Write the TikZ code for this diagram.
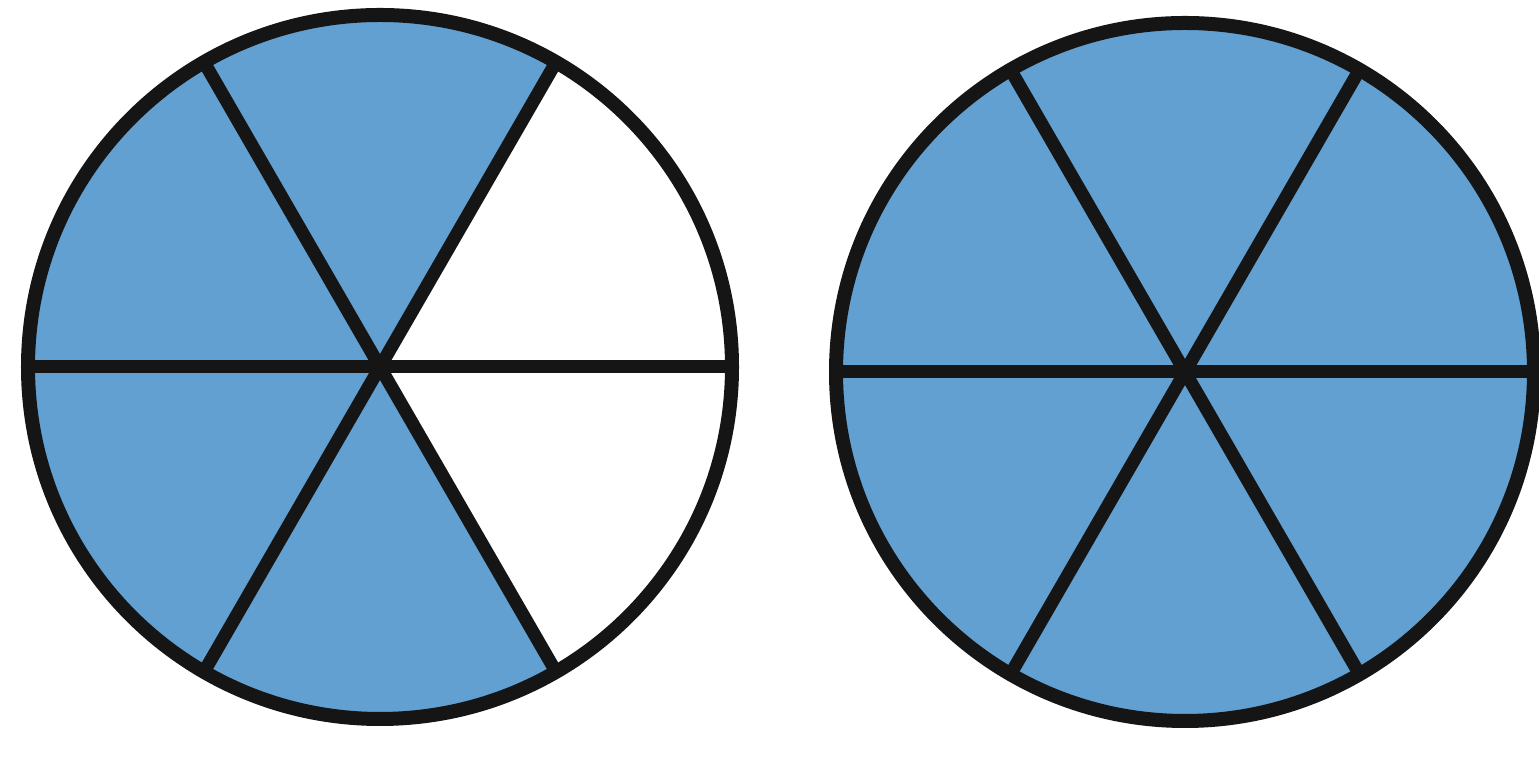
\documentclass[tikz,border=0pt]{standalone}
\usetikzlibrary{calc}
\definecolor{sector}{HTML}{62A0D2}
\definecolor{edge}{HTML}{151515}
\begin{document}
\begin{tikzpicture}[x=0.01cm,y=-0.01cm,
  rim/.style={draw=edge,line width=0.14cm},
  spoke/.style={draw=edge,line width=0.13cm},
  wedge/.style={fill=sector}]
\useasboundingbox (0,0) rectangle (1539,762);
% left circle
\coordinate (c1) at (380,367);
\def\ra{352}
\foreach \a in {60,120,180,240}{
  \fill[wedge] (c1) -- ++(\a:\ra) arc[start angle=\a, end angle=\a+60, radius=\ra] -- cycle;
}
\foreach \a in {0,60,120}{
  \coordinate (p\a) at ($(c1)+(\a:\ra)$);
  \coordinate (o\a) at ($(c1)-(\a:\ra)$);
  \draw[spoke] (p\a) -- (o\a);
}
\draw[rim] (c1) circle[radius=\ra];
% right circle
\coordinate (c2) at (1185,372);
\def\rb{349}
\fill[wedge] (c2) circle[radius=\rb];
\foreach \a in {0,60,120}{
  \coordinate (q\a) at ($(c2)+(\a:\rb)$);
  \coordinate (r\a) at ($(c2)-(\a:\rb)$);
  \draw[spoke] (q\a) -- (r\a);
}
\draw[rim] (c2) circle[radius=\rb];
\end{tikzpicture}
\end{document}
